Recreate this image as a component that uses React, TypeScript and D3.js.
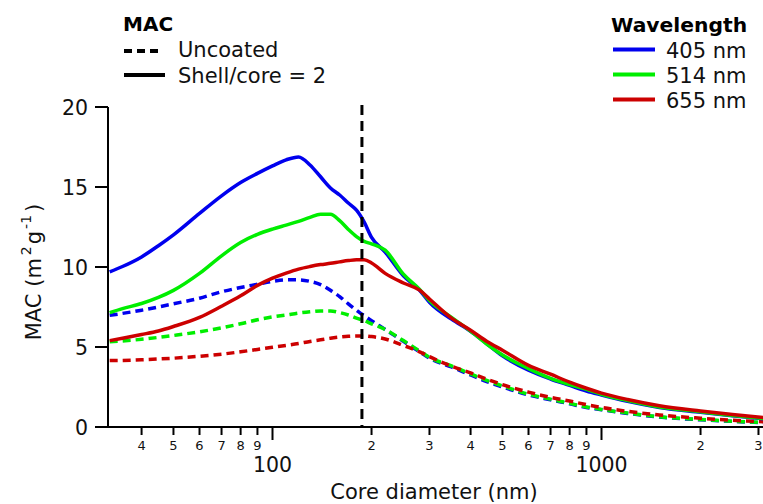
import React from 'react';
import * as d3 from 'd3';

// core diameters (nm)
const diameters = [32, 35, 40, 45, 50, 60, 70, 80, 90, 100, 110, 120, 130, 140, 150, 160, 170, 180, 190, 200,
  220, 250, 280, 300, 350, 400, 450, 500, 600, 700, 800, 900, 1000, 1200, 1500, 2000, 2500, 3160];

// shell/core = 2
const coated405 = [9.7, 10.03, 10.63, 11.33, 12.01, 13.35, 14.45, 15.28, 15.85, 16.32, 16.7, 16.88, 16.38, 15.64, 14.94, 14.5, 14.0, 13.55, 12.8, 11.85,
  10.93, 9.45, 8.55, 7.8, 6.74, 5.98, 5.17, 4.45, 3.55, 3.0, 2.6, 2.25, 2.0, 1.6, 1.22, 0.92, 0.7, 0.5];
const coated514 = [7.15, 7.4, 7.72, 8.1, 8.54, 9.6, 10.7, 11.53, 12.04, 12.37, 12.62, 12.85, 13.1, 13.3, 13.3, 12.9, 12.35, 11.9, 11.6, 11.45,
  11.05, 9.55, 8.6, 7.9, 6.85, 6.0, 5.15, 4.5, 3.65, 3.04, 2.65, 2.35, 2.05, 1.65, 1.25, 0.95, 0.72, 0.52];
const coated655 = [5.4, 5.55, 5.78, 6.0, 6.28, 6.85, 7.55, 8.2, 8.85, 9.3, 9.62, 9.87, 10.03, 10.15, 10.23, 10.32, 10.4, 10.45, 10.45, 10.25,
  9.6, 9.0, 8.55, 8.0, 6.8, 6.05, 5.33, 4.8, 3.85, 3.3, 2.8, 2.42, 2.12, 1.72, 1.33, 1.0, 0.78, 0.58];

// uncoated
const bare405 = [6.98, 7.1, 7.3, 7.5, 7.7, 8.05, 8.45, 8.72, 8.92, 9.1, 9.2, 9.2, 9.1, 8.9, 8.55, 8.15, 7.7, 7.3, 6.95, 6.65,
  6.1, 5.35, 4.7, 4.3, 3.75, 3.25, 2.82, 2.5, 2.0, 1.7, 1.45, 1.22, 1.08, 0.85, 0.62, 0.45, 0.35, 0.27];
const bare514 = [5.33, 5.38, 5.48, 5.6, 5.72, 5.95, 6.2, 6.45, 6.7, 6.88, 7.0, 7.12, 7.2, 7.25, 7.25, 7.15, 7.0, 6.8, 6.65, 6.45,
  6.1, 5.4, 4.75, 4.35, 3.82, 3.32, 2.9, 2.57, 2.05, 1.74, 1.48, 1.25, 1.1, 0.87, 0.64, 0.47, 0.36, 0.28];
const bare655 = [4.15, 4.16, 4.2, 4.25, 4.3, 4.42, 4.55, 4.7, 4.85, 4.98, 5.1, 5.22, 5.35, 5.45, 5.55, 5.62, 5.67, 5.69, 5.69, 5.65,
  5.5, 5.1, 4.7, 4.4, 3.8, 3.38, 2.98, 2.65, 2.18, 1.85, 1.62, 1.4, 1.22, 0.98, 0.75, 0.55, 0.42, 0.32];

const wavelengths = ['405 nm', '514 nm', '655 nm'];
const colors = ['#0000ee', '#00ee00', '#cc0000'];
const coatedSeries = [coated405, coated514, coated655];
const bareSeries = [bare405, bare514, bare655];

const yTicks = [0, 5, 10, 15, 20];
const xMajor = [100, 1000];
const xMinor = [40, 50, 60, 70, 80, 90, 200, 300, 400, 500, 600, 700, 800, 900, 2000, 3000];
const markerDiameter = 187;

const W = 763;
const H = 504;
const FONT = '"DejaVu Sans", Verdana, sans-serif';

const App = () => {
  const x = d3.scaleLog().domain([Math.pow(10, 1.5), Math.pow(10, 3.5)]).range([108, 766]);
  const y = d3.scaleLinear().domain([0, 20]).range([427, 107]);

  const line = (vals: number[]) =>
    d3.line<number>()
      .x((_, i) => x(diameters[i]))
      .y((v) => y(v))
      .curve(d3.curveMonotoneX)(vals) as string;

  return (
    <svg width={W} height={H} style={{ position: 'absolute', left: 0, top: 0 }} fontFamily={FONT}>
      <defs>
        <clipPath id="plot">
          <rect x={108} y={90} width={W - 108} height={340} />
        </clipPath>
      </defs>

      {/* curves */}
      <g clipPath="url(#plot)" fill="none" strokeWidth={3.5}>
        {bareSeries.map((s, i) => (
          <path key={'b' + i} d={line(s)} stroke={colors[i]} strokeDasharray="8,5" />
        ))}
        {coatedSeries.map((s, i) => (
          <path key={'c' + i} d={line(s)} stroke={colors[i]} strokeLinejoin="round" />
        ))}
      </g>

      {/* marker line */}
      <line x1={x(markerDiameter)} x2={x(markerDiameter)} y1={105} y2={427}
        stroke="#000" strokeWidth={3} strokeDasharray="10,6" />

      {/* y axis */}
      <line x1={108} x2={108} y1={y(20)} y2={y(0)} stroke="#000" strokeWidth={2} />
      {yTicks.map((t) => (
        <g key={t}>
          <line x1={95} x2={108} y1={y(t)} y2={y(t)} stroke="#000" strokeWidth={2} />
          <text x={88} y={y(t) + 8} textAnchor="end" fontSize={20.5} fill="#111">{t}</text>
        </g>
      ))}
      <text transform={`translate(41,${272}) rotate(-90)`} textAnchor="middle" fontSize={21} fill="#111">
        MAC (m<tspan dx={3} dy={-10} fontSize={14}>2</tspan><tspan dx={2} dy={10}>g</tspan>
        <tspan dx={2} dy={-10} fontSize={14}>-1</tspan><tspan dx={3} dy={10}>)</tspan>
      </text>

      {/* x axis */}
      <line x1={95} x2={W} y1={427} y2={427} stroke="#000" strokeWidth={2} />
      {xMinor.map((t) => (
        <g key={t}>
          <line x1={x(t)} x2={x(t)} y1={427} y2={435} stroke="#000" strokeWidth={2} />
          <text x={x(t)} y={450} textAnchor="middle" fontSize={13} fill="#111">
            {String(t)[0]}
          </text>
        </g>
      ))}
      {xMajor.map((t) => (
        <g key={t}>
          <line x1={x(t)} x2={x(t)} y1={427} y2={440} stroke="#000" strokeWidth={2} />
          <text x={x(t)} y={472} textAnchor="middle" fontSize={20.5} fill="#111">{t}</text>
        </g>
      ))}
      <text x={434} y={499} textAnchor="middle" fontSize={21} fill="#111">Core diameter (nm)</text>

      {/* legend: MAC */}
      <text x={123} y={31} fontSize={20} fontWeight="bold" fill="#000">MAC</text>
      <line x1={124} x2={160} y1={51} y2={51} stroke="#000" strokeWidth={4} strokeDasharray="8,5" />
      <text x={178} y={57} fontSize={21} fill="#111">Uncoated</text>
      <line x1={124} x2={165} y1={75} y2={75} stroke="#000" strokeWidth={4} />
      <text x={178} y={83} fontSize={21} fill="#111">Shell/core = 2</text>

      {/* legend: wavelength */}
      <text x={611} y={32} fontSize={20.3} fontWeight="bold" fill="#000">Wavelength</text>
      {wavelengths.map((w, i) => (
        <g key={w}>
          <line x1={613} x2={655} y1={49.5 + i * 25} y2={49.5 + i * 25} stroke={colors[i]} strokeWidth={4} />
          <text x={666} y={58 + i * 25} fontSize={21} fill="#111">{w}</text>
        </g>
      ))}
    </svg>
  );
};

export default App;
